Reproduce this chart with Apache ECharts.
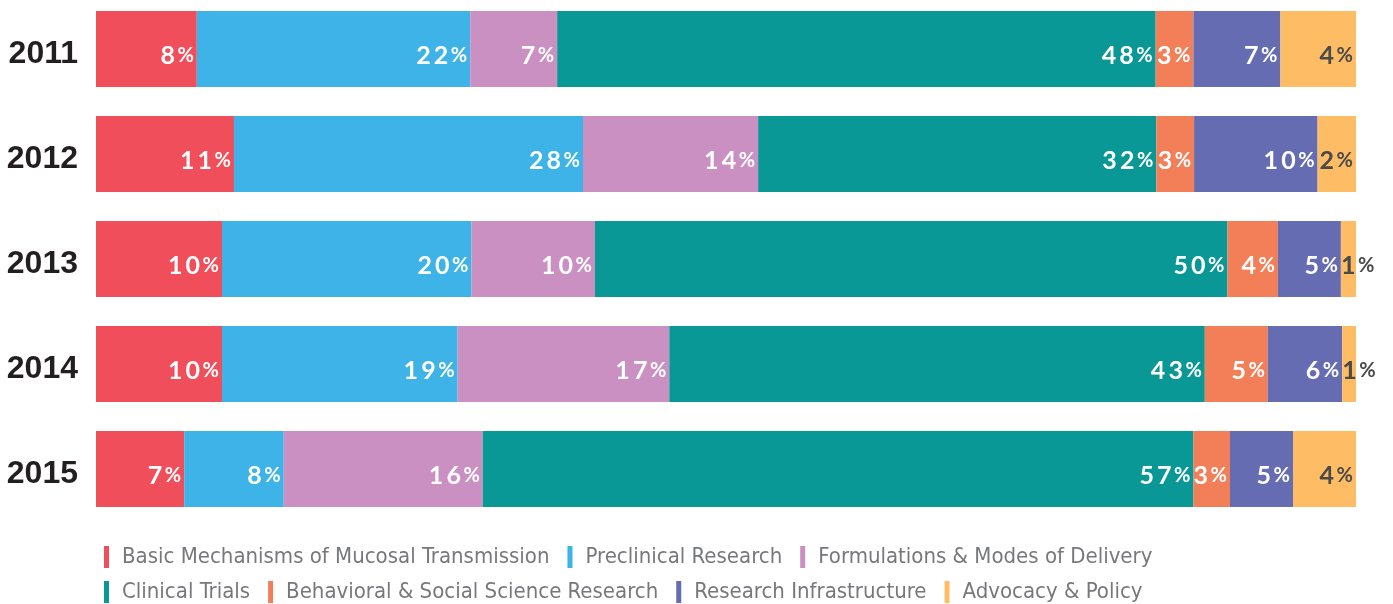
<!DOCTYPE html>
<html>
<head>
<meta charset="utf-8">
<script src="https://cdn.jsdelivr.net/npm/echarts@6/dist/echarts.min.js"></script>
<style>
  html, body { margin: 0; padding: 0; background: #fff; }
  #chart { width: 1393px; height: 604px; }
</style>
</head>
<body>
<div id="chart"></div>
<script>
var years = ['2011', '2012', '2013', '2014', '2015'];
var categories = [
	'Basic Mechanisms of Mucosal Transmission',
	'Preclinical Research',
	'Formulations & Modes of Delivery',
	'Clinical Trials',
	'Behavioral & Social Science Research',
	'Research Infrastructure',
	'Advocacy & Policy'
];

// printed percentages, 2011..2015
var basic = [8, 11, 10, 10, 7];
var preclinical = [22, 28, 20, 19, 8];
var formulations = [7, 14, 10, 17, 16];
var clinical = [48, 32, 50, 43, 57];
var behavioral = [3, 3, 4, 5, 3];
var infrastructure = [7, 10, 5, 6, 5];
var advocacy = [4, 2, 1, 1, 4];

// drawn bar lengths (share of full width), 2011..2015
var basicLen = [8.0, 10.95, 10.0, 10.0, 7.0];
var preclinicalLen = [21.7, 27.7, 19.8, 18.7, 7.9];
var formulationsLen = [6.9, 13.9, 9.8, 16.8, 15.8];
var clinicalLen = [47.5, 31.6, 50.2, 42.5, 56.4];
var behavioralLen = [3.0, 3.0, 4.0, 5.0, 2.9];
var infrastructureLen = [6.9, 9.8, 5.0, 5.9, 5.0];
var advocacyLen = [6.0, 3.05, 1.2, 1.1, 5.0];

var labelSets = [basic, preclinical, formulations, clinical, behavioral, infrastructure, advocacy];
var lenSets = [basicLen, preclinicalLen, formulationsLen, clinicalLen, behavioralLen, infrastructureLen, advocacyLen];
var colors = ['#F04E5A', '#3DB3E7', '#CA90C2', '#099895', '#F27F58', '#656CB1', '#FEBD65'];

var chart = echarts.init(document.getElementById('chart'));

function spaced(v) {
	return String(v).split('').join('\u2009');
}

var series = [];
for (var s = 0; s < categories.length; s++) {
	(function (s) {
		var dark = s === 6;
		var data = [];
		for (var i = 0; i < years.length; i++) {
			var item = { value: lenSets[s][i] };
			// tiny slices: label starts at the slice and runs past the bar end
			if (labelSets[s][i] <= 1) {
				item.label = { position: 'insideLeft', distance: 0 };
			}
			data.push(item);
		}
		series.push({
			name: categories[s],
			type: 'bar',
			stack: 'total',
			barWidth: 76,
			itemStyle: { color: colors[s] },
			emphasis: { disabled: true },
			label: {
				show: true,
				position: 'insideRight',
				distance: 3,
				offset: [0, 7],
				formatter: function (p) {
					return '{n|' + spaced(labelSets[s][p.dataIndex]) + '}{p|\u2009%}';
				},
				rich: {
					n: {
						fontFamily: 'Lato',
						fontWeight: 'bold',
						fontSize: 25,
						color: dark ? '#4A4A4A' : '#FFFFFF'
					},
					p: {
						fontFamily: 'Lato',
						fontWeight: 'bold',
						fontSize: 20,
						color: dark ? '#4A4A4A' : '#FFFFFF'
					}
				}
			},
			data: data
		});
	})(s);
}

var legendBase = {
	left: 104,
	padding: 0,
	orient: 'horizontal',
	icon: 'rect',
	itemWidth: 5,
	itemHeight: 22,
	itemGap: 18,
	selectedMode: false,
	textStyle: {
		fontFamily: 'DejaVu Sans Condensed',
		fontSize: 22,
		color: '#77787B',
		padding: [0, 0, 0, 8]
	}
};

var option = {
	animation: false,
	backgroundColor: '#ffffff',
	grid: {
		left: 96,
		right: 37,
		top: -3.5,
		height: 525,
		outerBoundsMode: 'none'
	},
	legend: [
		Object.assign({}, legendBase, { top: 546, data: categories.slice(0, 3) }),
		Object.assign({}, legendBase, { top: 581, data: categories.slice(3) })
	],
	xAxis: {
		type: 'value',
		min: 0,
		max: 100,
		show: false
	},
	yAxis: {
		type: 'category',
		inverse: true,
		data: years,
		axisLine: { show: false },
		axisTick: { show: false },
		axisLabel: {
			margin: 18,
			formatter: function (v) {
				return '{y|' + v + '}';
			},
			rich: {
				y: {
					padding: [10, 0, 0, 0],
					fontFamily: 'Liberation Sans',
					fontWeight: 'bold',
					fontSize: 32,
					color: '#231F20'
				}
			}
		}
	},
	series: series
};

chart.setOption(option);
</script>
</body>
</html>
